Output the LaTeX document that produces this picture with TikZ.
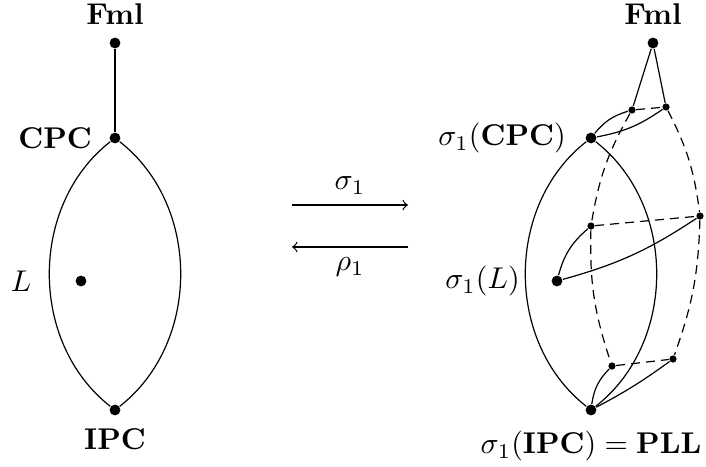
\documentclass[tikz,border=0pt]{standalone}
\usetikzlibrary{positioning}

\begin{document}
\begin{tikzpicture}[
    x=0.3333pt, y=0.3333pt,
    >=to,
    bigdot/.style={circle, fill, inner sep=0pt, minimum size=3.6pt},
    smalldot/.style={circle, fill, inner sep=0pt, minimum size=2.4pt},
    line/.style={draw},
    hidden/.style={draw, dash pattern=on 3pt off 2pt},
    map/.style={draw, ->}
]
    \useasboundingbox (0,0) rectangle (706,466);

    % Nodes (left)
    \node [bigdot] (fmlL) at (115,423) {};
    \node [bigdot] (cpcL) at (115,328) {};
    \node [bigdot] (ipcL) at (115,56) {};
    \node [bigdot] (lL) at (81,185) {};

    \node [above=0.5pt of fmlL] (fmlLtxt) {\textbf{Fml}};
    \node [left=2.2pt of cpcL] (cpcLtxt) {\textbf{CPC}};
    \node [below=0.8pt of ipcL] (ipcLtxt) {\textbf{IPC}};
    \node [left=11pt of lL] (lLtxt) {$L$};

    % Nodes (right)
    \node [bigdot] (fmlR) at (653,423) {};
    \node [bigdot] (cpcR) at (591,328) {};
    \node [bigdot] (ipcR) at (591,56) {};
    \node [bigdot] (lR) at (557,185) {};

    \node [smalldot] (a) at (632,356) {};
    \node [smalldot] (b) at (666,359) {};
    \node [smalldot] (c) at (591,240) {};
    \node [smalldot] (d) at (700,250) {};
    \node [smalldot] (e) at (612,100) {};
    \node [smalldot] (f) at (673,107) {};

    \node [above=0.5pt of fmlR] (fmlRtxt) {\textbf{Fml}};
    \node [left=2.9pt of cpcR] (cpcRtxt) {$\sigma_1(\mathbf{CPC})$};
    \node [left=6.9pt of lR] (lRtxt) {$\sigma_1(L)$};
    \node [below=1.5pt of ipcR] (ipcRtxt) {$\sigma_1(\mathbf{IPC}) = \mathbf{PLL}$};

    % Maps
    \coordinate (sigA) at (292,261);
    \coordinate (sigB) at (408,261);
    \coordinate (rhoA) at (408,219);
    \coordinate (rhoB) at (292,219);

    \path [map] (sigA) -- node [above] (sigtxt) {$\sigma_1$} (sigB);
    \path [map] (rhoA) -- node [below] (rhotxt) {$\rho_1$} (rhoB);

    % Connections (left)
    \path [line] (fmlL) -- (cpcL);
    \path [line] (cpcL) to [out=-142, in=142] (ipcL);
    \path [line] (cpcL) to [out=-38, in=38] (ipcL);

    % Connections (right)
    \path [line] (cpcR) to [out=-142, in=142] (ipcR);
    \path [line] (cpcR) to [out=-38, in=38] (ipcR);

    \path [line] (fmlR) -- (a);
    \path [line] (fmlR) -- (b);
    \path [line] (cpcR) to [bend left=17] (a);
    \path [line] (cpcR) to [bend right=12] (b);
    \path [line] (c) to [bend right=17] (lR);
    \path [line] (lR) to [bend right=9] (d);
    \path [line] (ipcR) to [bend left=18] (e);
    \path [line] (ipcR) to [bend right=4] (f);

    \path [hidden] (a) -- (b);
    \path [hidden] (a) to [bend right=10] (c);
    \path [hidden] (b) to [bend left=10] (d);
    \path [hidden] (c) -- (d);
    \path [hidden] (c) to [bend right=10] (e);
    \path [hidden] (d) to [bend left=9] (f);
    \path [hidden] (e) -- (f);

\end{tikzpicture}
\end{document}
